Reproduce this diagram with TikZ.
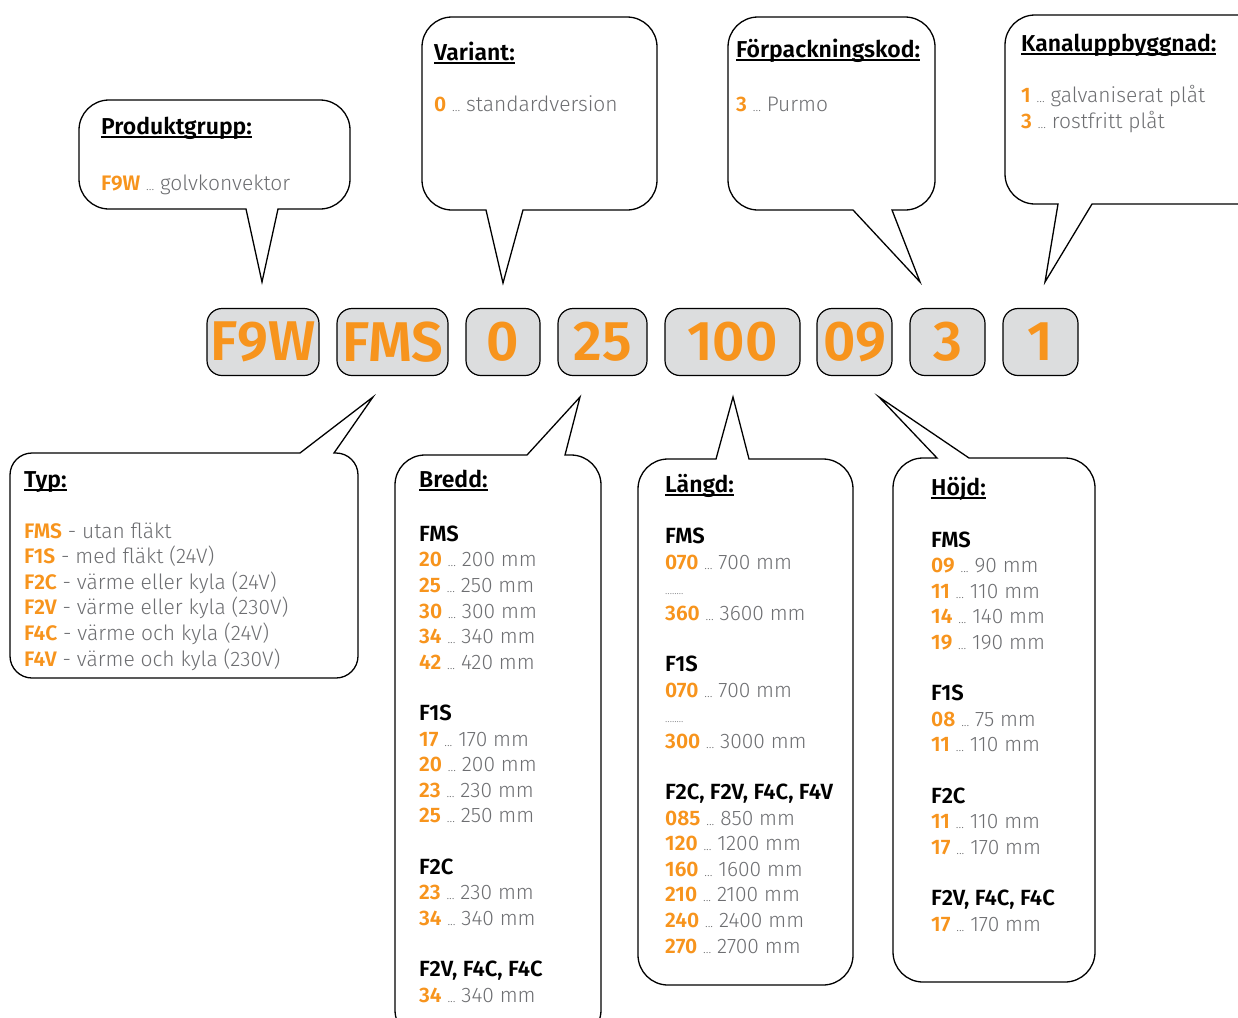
\documentclass[tikz,border=0pt]{standalone}
\usepackage{fontspec}
\setmainfont{Fira Sans}[UprightFont=* Light, BoldFont=* SemiBold]
\usepackage{xcolor}
\definecolor{codeorange}{HTML}{F7941D}
\definecolor{txtgray}{HTML}{6D6E71}
\definecolor{boxgray}{HTML}{DCDDDE}
\newcommand{\cd}[2]{\textcolor{codeorange}{\bfseries #1}\ {\fontsize{13}{13}\selectfont\textcolor{txtgray}{...}}\ \textcolor{txtgray}{#2}}
\newcommand{\ty}[2]{\textcolor{codeorange}{\bfseries #1} \textcolor{txtgray}{- #2}}
\newcommand{\grp}[1]{{\fontsize{22}{25.6}\selectfont\bfseries #1}}
\newcommand{\dts}{{\fontsize{11}{11}\selectfont\textcolor{txtgray}{........}}}
\newcommand{\hd}[1]{\setbox0\hbox{\bfseries #1}\rlap{\rule[-4pt]{\wd0}{1.6pt}}\box0}

\begin{document}
\begin{tikzpicture}[x=1pt, y=-1pt,
  bubble/.style={draw, line width=1.3pt},
  codebox/.style={draw, line width=1.2pt, fill=boxgray, rounded corners=15pt,
                  inner sep=0pt, minimum height=67, text=codeorange,
                  font=\fontsize{56}{56}\selectfont\bfseries},
  head/.style={anchor=base west, inner sep=0pt, font=\fontsize{23}{25}\selectfont},
  body/.style={anchor=base west, inner sep=0pt, align=left,
               font=\fontsize{21}{25.6}\selectfont}]
\useasboundingbox (0,0) rectangle (1238,1017);
\clip (0,0) rectangle (1238,1017);

% code row
\node[codebox, minimum width=112] (grp)   at (263,342)   {F9W};
\node[codebox, minimum width=111] (typ)   at (392.5,342) {FMS};
\node[codebox, minimum width=74]  (var)   at (503,342)   {0};
\node[codebox, minimum width=89]  (bredd) at (602.5,342) {25};
\node[codebox, minimum width=135] (langd) at (732.5,342) {100};
\node[codebox, minimum width=75]  (hojd)  at (854.5,342) {09};
\node[codebox, minimum width=75]  (pack)  at (947.5,342) {3};
\node[codebox, minimum width=75]  (kanal) at (1040.5,342) {1};

% upper callouts
\draw[bubble] (262,282) -- (278,209) [rounded corners=30] -- (350,209)
  -- (350,100) -- (79,100) -- (79,209) [sharp corners] -- (246,209) -- cycle;
\draw[bubble] (503,283) -- (523,210) [rounded corners=30] -- (657,210)
  -- (657,17) -- (422,17) -- (422,210) [sharp corners] -- (486,210) -- cycle;
\draw[bubble] (920,282) -- (892,210) [rounded corners=30] -- (935,210)
  -- (935,17) -- (728,17) -- (728,210) [sharp corners] -- (853,210) -- cycle;
\draw[bubble] (1045,282) -- (1092,204) [rounded corners=30] -- (1270,204)
  -- (1270,15) -- (1005,15) -- (1005,204) [sharp corners] -- (1058,204) -- cycle;

% lower callouts
\draw[bubble] (373,397) -- (334,453) [rounded corners=22] -- (358,453)
  -- (358,678) -- (10,678) -- (10,453) [sharp corners] -- (300,453) -- cycle;
\draw[bubble] (580,397) -- (565,455) [rounded corners=30] -- (601,455)
  -- (601,1040) -- (395,1040) -- (395,455) [sharp corners] -- (527,455) -- cycle;
\draw[bubble] (733,397) -- (749,459) [rounded corners=30] -- (853,459)
  -- (853,985) -- (638,985) -- (638,459) [sharp corners] -- (716,459) -- cycle;
\draw[bubble] (879,397) -- (969,458) [rounded corners=30] -- (1095,458)
  -- (1095,982) -- (893,982) -- (893,458) [sharp corners] -- (937,458) -- cycle;

% headings
\node[head] (grphd)   at (101,134)  {\hd{Produktgrupp:}};
\node[head] (varhd)   at (434,60)   {\hd{Variant:}};
\node[head] (packhd)  at (736,57)   {\hd{Förpackningskod:}};
\node[head] (kanalhd) at (1021,51)  {\hd{Kanaluppbyggnad:}};
\node[head] (typhd)   at (24,487)   {\hd{Typ:}};
\node[head] (breddhd) at (419,487)  {\hd{Bredd:}};
\node[head] (langdhd) at (665,492)  {\hd{Längd:}};
\node[head] (hojdhd)  at (931,495)  {\hd{Höjd:}};

% texts (anchored at the baseline of their last line)
\node[body] (grptx)   at (101,190)  {\cd{F9W}{golvkonvektor}};
\node[body] (vartx)   at (434,111)  {\cd{0}{standardversion}};
\node[body] (packtx)  at (736,111)  {\cd{3}{Purmo}};
\node[body] (kanaltx) at (1021,128) {\cd{1}{galvaniserat plåt}\\ \cd{3}{rostfritt plåt}};
\node[body] (typtx)   at (24,666)   {\ty{FMS}{utan fläkt}\\ \ty{F1S}{med fläkt (24V)}\\
  \ty{F2C}{värme eller kyla (24V)}\\ \ty{F2V}{värme eller kyla (230V)}\\
  \ty{F4C}{värme och kyla (24V)}\\ \ty{F4V}{värme och kyla (230V)}};
\node[body] (breddtx) at (419,1002) {\grp{FMS}\\ \cd{20}{200 mm}\\ \cd{25}{250 mm}\\
  \cd{30}{300 mm}\\ \cd{34}{340 mm}\\ \cd{42}{420 mm}\\[25.6pt]
  \grp{F1S}\\ \cd{17}{170 mm}\\ \cd{20}{200 mm}\\ \cd{23}{230 mm}\\ \cd{25}{250 mm}\\[25.6pt]
  \grp{F2C}\\ \cd{23}{230 mm}\\ \cd{34}{340 mm}\\[25.6pt]
  \grp{F2V, F4C, F4C}\\ \cd{34}{340 mm}};
\node[body] (langdtx) at (665,953)  {\grp{FMS}\\ \cd{070}{700 mm}\\ \dts\\ \cd{360}{3600 mm}\\[25.6pt]
  \grp{F1S}\\ \cd{070}{700 mm}\\ \dts\\ \cd{300}{3000 mm}\\[25.6pt]
  \grp{F2C, F2V, F4C, F4V}\\ \cd{085}{850 mm}\\ \cd{120}{1200 mm}\\ \cd{160}{1600 mm}\\
  \cd{210}{2100 mm}\\ \cd{240}{2400 mm}\\ \cd{270}{2700 mm}};
\node[body] (hojdtx)  at (931,931)  {\grp{FMS}\\ \cd{09}{90 mm}\\ \cd{11}{110 mm}\\
  \cd{14}{140 mm}\\ \cd{19}{190 mm}\\[25.6pt]
  \grp{F1S}\\ \cd{08}{75 mm}\\ \cd{11}{110 mm}\\[25.6pt]
  \grp{F2C}\\ \cd{11}{110 mm}\\ \cd{17}{170 mm}\\[25.6pt]
  \grp{F2V, F4C, F4C}\\ \cd{17}{170 mm}};
\end{tikzpicture}
\end{document}
